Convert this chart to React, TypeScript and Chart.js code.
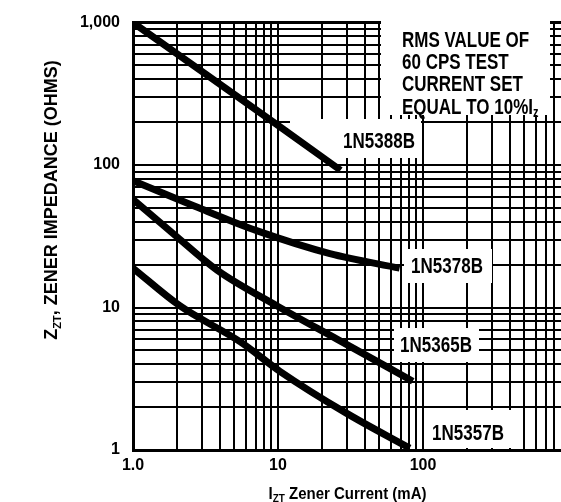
import { useEffect, useRef } from 'react';
import { Chart, registerables } from 'chart.js';

Chart.register(...registerables);

const FONT = "'Liberation Sans', Arial, sans-serif";

// Series: zener current (mA) vs zener impedance (ohms)
const seriesNames = ['1N5388B', '1N5378B', '1N5365B', '1N5357B'];
const current5388 = [1, 10, 27];
const impedance5388 = [1000, 190, 92];
const current5378 = [1, 3, 7.2, 22.8, 69];
const impedance5378 = [77.6, 48.9, 34.5, 23.9, 18.9];
const current5365 = [1, 1.9, 3.8, 9.8, 25.5, 85];
const impedance5365 = [57.4, 32.9, 18.3, 10.3, 6.0, 3.04];
const current5357 = [1, 2.1, 5.5, 10.3, 30, 81];
const impedance5357 = [18.9, 10.3, 5.74, 3.57, 1.8, 1.03];

// Grid / tick values
const xGridValues = [
  1, 2, 3, 4, 5, 6, 7, 8, 9,
  10, 20, 30, 40, 50, 60, 70, 80, 90,
  100, 200, 300, 400, 500, 600, 700, 800,
];
const yGridValues = [
  1, 2, 3, 4, 5, 6, 7, 8, 9,
  10, 20, 30, 40, 50, 60, 70, 80, 90,
  100, 200, 300, 400, 500, 600, 700, 800, 900,
  1000,
];
const xTickLabels: Record<number, string> = { 1: '1.0', 10: '10', 100: '100' };
const yTickLabels: Record<number, string> = { 1: '1', 10: '10', 100: '100', 1000: '1,000' };
const noteLines = ['RMS VALUE OF', '60 CPS TEST', 'CURRENT SET', 'EQUAL TO 10%I'];
const noteSubscript = 'z';

type Part = [string, number, number]; // text, font size, baseline shift

function drawParts(
  ctx: CanvasRenderingContext2D,
  parts: Part[],
  x: number,
  y: number,
  sy: number,
  align: 'left' | 'center',
) {
  let total = 0;
  const widths = parts.map(([t, s]) => {
    ctx.font = `bold ${s}px ${FONT}`;
    const w = ctx.measureText(t).width;
    total += w;
    return w;
  });
  let px = align === 'center' ? x - total / 2 : x;
  ctx.textAlign = 'left';
  ctx.textBaseline = 'alphabetic';
  parts.forEach(([t, s, dy], i) => {
    ctx.save();
    ctx.font = `bold ${s}px ${FONT}`;
    ctx.translate(px, y + dy);
    ctx.scale(1, sy);
    ctx.fillText(t, 0, 0);
    ctx.restore();
    px += widths[i];
  });
}

const overlayPlugin = {
  id: 'overlay',
  beforeDatasetsDraw(chart: any) {
    const ctx = chart.ctx as CanvasRenderingContext2D;
    ctx.save();
    ctx.fillStyle = '#fff';
    const boxes = [
      [381, 16, 550, 115],
      [290, 119, 421, 158],
      [404, 249, 492, 283],
      [394, 328, 479, 362],
      [426, 410, 511, 448],
    ];
    for (const b of boxes) ctx.fillRect(b[0], b[1], b[2] - b[0], b[3] - b[1]);
    ctx.restore();
  },
  afterDatasetsDraw(chart: any) {
    const ctx = chart.ctx as CanvasRenderingContext2D;
    ctx.save();
    ctx.fillStyle = '#000';
    const labelPos = [
      [379, 148],
      [447, 273],
      [436, 352],
      [468, 440],
    ];
    seriesNames.forEach((n, i) =>
      drawParts(ctx, [[n, 17, 0]], labelPos[i][0], labelPos[i][1], 1.3, 'center'),
    );
    const baselines = [46.5, 68.5, 91, 113.5];
    noteLines.forEach((t, i) => {
      const parts: Part[] = [[t, 17, 0]];
      if (i === noteLines.length - 1) parts.push([noteSubscript, 11, 3]);
      drawParts(ctx, parts, 402, baselines[i], 1.3, 'left');
    });
    ctx.restore();
  },
  afterDraw(chart: any) {
    const ctx = chart.ctx as CanvasRenderingContext2D;
    ctx.save();
    ctx.fillStyle = '#000';
    // y title (rotated, reads bottom to top)
    ctx.save();
    ctx.translate(57, 200);
    ctx.rotate(-Math.PI / 2);
    drawParts(
      ctx,
      [
        ['Z', 18, 0],
        ['ZT', 11, 4],
        [', ZENER IMPEDANCE (OHMS)', 18, 0],
      ],
      0,
      0,
      1,
      'center',
    );
    ctx.restore();
    // x title
    drawParts(
      ctx,
      [
        ['I', 15, 0],
        ['ZT', 10, 3],
        [' Zener Current (mA)', 15, 0],
      ],
      347.5,
      499,
      1.15,
      'center',
    );
    ctx.restore();
  },
};

function toPoints(xs: number[], ys: number[]) {
  return xs.map((x, i) => ({ x, y: ys[i] }));
}

export default function App() {
  const canvasRef = useRef<HTMLCanvasElement | null>(null);

  useEffect(() => {
    document.body.style.margin = '0';
    const canvas = canvasRef.current;
    if (!canvas) return;
    const lineStyle = {
      borderColor: '#000',
      borderWidth: 7,
      pointRadius: 0,
      fill: false,
      cubicInterpolationMode: 'monotone' as const,
      borderCapStyle: 'butt' as const,
    };
    const tickFont = { family: FONT, size: 16, weight: 'bold' as const };
    const chart = new Chart(canvas, {
      type: 'line',
      data: {
        datasets: [
          { label: seriesNames[0], data: toPoints(current5388, impedance5388), ...lineStyle },
          { label: seriesNames[1], data: toPoints(current5378, impedance5378), ...lineStyle },
          { label: seriesNames[2], data: toPoints(current5365, impedance5365), ...lineStyle },
          { label: seriesNames[3], data: toPoints(current5357, impedance5357), ...lineStyle },
        ],
      },
      options: {
        animation: false,
        responsive: true,
        maintainAspectRatio: false,
        layout: { padding: { top: 15, right: 0, left: 0, bottom: 0 } },
        plugins: {
          legend: { display: false },
          tooltip: { enabled: false },
        },
        scales: {
          x: {
            type: 'logarithmic',
            min: 1,
            max: 895,
            afterBuildTicks: (s: any) => {
              s.ticks = xGridValues.map((v) => ({ value: v }));
            },
            afterFit: (s: any) => {
              s.height = 52;
            },
            grid: { color: '#000', lineWidth: 2, drawTicks: false },
            border: { color: '#000', width: 3 },
            ticks: {
              autoSkip: false,
              maxRotation: 0,
              minRotation: 0,
              padding: 6,
              color: '#000',
              font: tickFont,
              callback: (v: any) => xTickLabels[Number(v)] ?? '',
            },
          },
          y: {
            type: 'logarithmic',
            min: 1,
            max: 1000,
            afterBuildTicks: (s: any) => {
              s.ticks = yGridValues.map((v) => ({ value: v }));
            },
            afterFit: (s: any) => {
              s.width = 133;
            },
            grid: {
              color: '#000',
              lineWidth: (c: any) => (c.tick && c.tick.value === 1000 ? 3 : 2),
              drawTicks: false,
            },
            border: { color: '#000', width: 3 },
            ticks: {
              autoSkip: false,
              padding: 13,
              color: '#000',
              font: tickFont,
              callback: (v: any) => yTickLabels[Number(v)] ?? '',
            },
          },
        },
      },
      plugins: [overlayPlugin],
    });
    return () => chart.destroy();
  }, []);

  return (
    <div style={{ position: 'relative', width: 561, height: 502 }}>
      <canvas ref={canvasRef} />
    </div>
  );
}
